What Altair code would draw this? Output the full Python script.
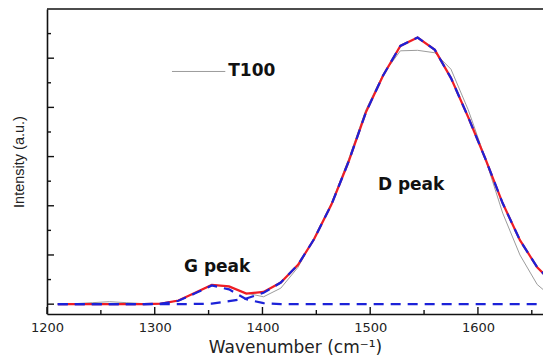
import altair as alt
import pandas as pd

# ---- data ----
wavenumber = [1210, 1226, 1242, 1258, 1274, 1290, 1306, 1322, 1337, 1353,
              1369, 1385, 1401, 1417, 1433, 1448, 1464, 1480, 1496, 1512,
              1528, 1544, 1560, 1575, 1591, 1607, 1623, 1639, 1655, 1671]
raw_t100 = [0.0, 0.02, 0.06, 0.1, 0.06, 0.02, 0.02, 0.15, 0.45, 0.8,
            0.7, 0.45, 0.3, 0.65, 1.5, 2.7, 4.1, 5.9, 7.9, 9.35,
            10.3, 10.32, 10.22, 9.55, 7.9, 5.9, 3.7, 2.0, 0.8, 0.2]
fit_total = [0.0, 0.0, 0.0, 0.0, 0.0, 0.0, 0.02, 0.15, 0.45, 0.78,
             0.72, 0.43, 0.5, 0.88, 1.6, 2.65, 4.05, 5.8, 7.8, 9.3,
             10.5, 10.84, 10.34, 9.19, 7.6, 5.9, 4.1, 2.6, 1.5, 0.8]
d_peak = [0.0, 0.0, 0.0, 0.0, 0.0, 0.0, 0.0, 0.0, 0.01, 0.02,
          0.12, 0.23, 0.46, 0.88, 1.6, 2.65, 4.05, 5.8, 7.8, 9.3,
          10.5, 10.84, 10.34, 9.19, 7.6, 5.9, 4.1, 2.6, 1.5, 0.8]
g_peak = [0.0, 0.0, 0.0, 0.0, 0.0, 0.0, 0.02, 0.14, 0.43, 0.76,
          0.6, 0.2, 0.04, 0.0, 0.0, 0.0, 0.0, 0.0, 0.0, 0.0,
          0.0, 0.0, 0.0, 0.0, 0.0, 0.0, 0.0, 0.0, 0.0, 0.0]

x_major = [1200, 1300, 1400, 1500, 1600]
x_minor = [1250, 1350, 1450, 1550, 1650]
y_major = [0, 2, 4, 6, 8, 10]
y_minor = [1, 3, 5, 7, 9, 11]

legend_label = ["T100"]
legend_line_x = [1316, 1365.5]
legend_y = [9.46]
peak_labels = ["G peak", "D peak"]
peak_x = [1358, 1538]
peak_y = [1.31, 4.64]

X_DOMAIN = [1200, 1660.4]
Y_DOMAIN = [-0.4, 12]
W, H = 496, 305
FONT = "DejaVu Sans"

df = pd.DataFrame({"wn": wavenumber, "raw": raw_t100, "fit": fit_total,
                   "d": d_peak, "g": g_peak})

xs = alt.Scale(domain=X_DOMAIN, nice=False, zero=False)
ys = alt.Scale(domain=Y_DOMAIN, nice=False, zero=False)

x_axis = alt.Axis(title="Wavenumber (cm⁻¹)", values=x_major, format="d",
                  ticks=False, tickSize=0, grid=False, domainColor="#111",
                  domainWidth=1.6, labelFont=FONT, labelFontSize=13,
                  labelColor="#222", labelPadding=7, labelFlush=False,
                  titleFont=FONT, titleFontSize=17, titleFontWeight="normal",
                  titleColor="#222", titlePadding=5)
y_axis = alt.Axis(title="Intensity (a.u.)", labels=False, ticks=False,
                  tickSize=0, grid=False, domainColor="#111", domainWidth=1.6,
                  minExtent=0, titleFont="Liberation Sans", titleFontSize=14.5,
                  titleFontWeight="normal", titleColor="#222", titlePadding=21)

base = alt.Chart(df)
raw = base.mark_line(color="#9c9c9c", strokeWidth=1, clip=True).encode(
    x=alt.X("wn:Q", scale=xs, axis=x_axis),
    y=alt.Y("raw:Q", scale=ys, axis=y_axis))
fit = base.mark_line(color="#ee1d25", strokeWidth=2.2, clip=True).encode(
    x=alt.X("wn:Q", scale=xs), y=alt.Y("fit:Q", scale=ys))
dline = base.mark_line(color="#1c22d8", strokeWidth=2.2, strokeDash=[10, 7],
                       clip=True).encode(
    x=alt.X("wn:Q", scale=xs), y=alt.Y("d:Q", scale=ys))
gline = base.mark_line(color="#1c22d8", strokeWidth=2.2, strokeDash=[10, 7],
                       clip=True).encode(
    x=alt.X("wn:Q", scale=xs), y=alt.Y("g:Q", scale=ys))

# frame top line
top = alt.Chart(pd.DataFrame({"a": [0]})).mark_rule(
    color="#111", strokeWidth=1.6).encode(
    x=alt.datum(X_DOMAIN[0], scale=xs), x2=alt.datum(X_DOMAIN[1]),
    y=alt.datum(Y_DOMAIN[1], scale=ys))

# inward ticks
xmaj = alt.Chart(pd.DataFrame({"v": x_major})).mark_rule(
    color="#111", strokeWidth=1.4).encode(
    x=alt.X("v:Q", scale=xs), y=alt.value(H), y2=alt.value(H - 7))
xmin = alt.Chart(pd.DataFrame({"v": x_minor})).mark_rule(
    color="#111", strokeWidth=1.4).encode(
    x=alt.X("v:Q", scale=xs), y=alt.value(H), y2=alt.value(H - 4))
ymaj = alt.Chart(pd.DataFrame({"v": y_major})).mark_rule(
    color="#111", strokeWidth=1.4).encode(
    y=alt.Y("v:Q", scale=ys), x=alt.value(0), x2=alt.value(7))
ymin = alt.Chart(pd.DataFrame({"v": y_minor})).mark_rule(
    color="#111", strokeWidth=1.4).encode(
    y=alt.Y("v:Q", scale=ys), x=alt.value(0), x2=alt.value(4))

# legend
leg_line = alt.Chart(pd.DataFrame({"x": [legend_line_x[0]], "x2": [legend_line_x[1]],
                                   "y": legend_y})).mark_rule(
    color="#9c9c9c", strokeWidth=1).encode(
    x=alt.X("x:Q", scale=xs), x2="x2:Q", y=alt.Y("y:Q", scale=ys))
leg_text = alt.Chart(pd.DataFrame({"t": legend_label, "x": [legend_line_x[1] + 2.7],
                                   "y": legend_y})).mark_text(
    align="left", baseline="middle", font=FONT, fontSize=17,
    fontWeight="bold", color="#111").encode(
    x=alt.X("x:Q", scale=xs), y=alt.Y("y:Q", scale=ys), text="t:N")

peaks = alt.Chart(pd.DataFrame({"t": peak_labels, "x": peak_x, "y": peak_y})).mark_text(
    align="center", baseline="alphabetic", font=FONT, fontSize=17,
    fontWeight="bold", color="#111").encode(
    x=alt.X("x:Q", scale=xs), y=alt.Y("y:Q", scale=ys), text="t:N")

chart = alt.layer(raw, fit, dline, gline, top, xmaj, xmin, ymaj, ymin,
                  leg_line, leg_text, peaks).properties(
    width=W, height=H,
    autosize=alt.AutoSizeParams(type="none"),
    padding={"left": 47, "top": 9, "right": 0, "bottom": 44},
    background="white",
).configure_view(stroke=None)

chart.save("out.html", embed_options={"renderer": "svg", "actions": False})
